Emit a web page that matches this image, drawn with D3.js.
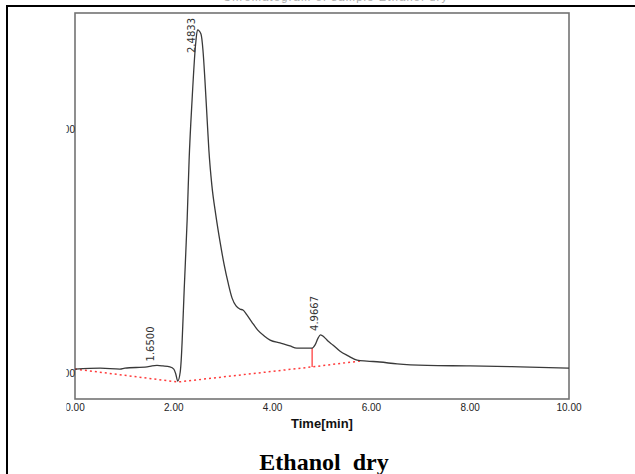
<!DOCTYPE html>
<html>
<head>
<meta charset="utf-8">
<script src="https://cdn.jsdelivr.net/npm/d3@7"></script>
<style>
  body { margin: 0; background: #fff; }
  svg { display: block; }
</style>
</head>
<body>
<div id="chart"></div>
<script>
// Trace: retention time (min) and detector signal
const times = [0.00, 0.51, 0.91, 1.01, 1.46, 1.56, 1.66, 1.78, 1.92, 2.00, 2.04, 2.08, 2.13, 2.15, 2.17,
  2.21, 2.27, 2.31, 2.37, 2.44, 2.48, 2.55, 2.59, 2.63, 2.67, 2.71, 2.77, 2.85, 2.94, 3.02, 3.10,
  3.18, 3.26, 3.34, 3.40, 3.48, 3.58, 3.70, 3.83, 3.95, 4.15, 4.35, 4.49, 4.80, 4.86, 4.92, 4.97,
  5.04, 5.12, 5.22, 5.36, 5.53, 5.71, 5.91, 6.17, 6.52, 7.13, 8.00, 9.01, 10.00];
const signal = [101.6, 102.0, 101.6, 102.0, 102.5, 102.9, 103.1, 102.9, 102.5, 101.6, 99.6, 96.7, 100.4, 105.3, 113.5,
  134.0, 162.7, 187.3, 211.9, 234.4, 240.6, 238.9, 232.4, 220.1, 205.7, 191.4, 177.0, 164.8, 153.3, 144.3, 136.9,
  130.7, 127.5, 126.2, 125.8, 123.8, 120.9, 117.6, 115.2, 113.5, 112.3, 111.1, 110.2, 110.2, 111.5, 114.3, 115.6,
  114.8, 113.1, 111.5, 109.0, 107.0, 105.3, 104.9, 104.5, 103.7, 103.1, 102.9, 102.5, 102.0];

// Integration baseline (red dotted)
const baseTimes = [0.00, 2.08, 4.80, 5.77];
const baseSignal = [101.6, 96.3, 102.5, 104.9];

// Peak start marker (red solid drop line)
const dropTime = 4.80;
const dropTop = 110.2;
const dropBottom = 102.5;

// Labelled peaks
const peakTimes = [1.65, 2.4833, 4.9667];
const peakSignal = [103.1, 240.6, 115.6];

// Axes
const xTickValues = [0, 2, 4, 6, 8, 10];
const yTickValues = [100, 200];
const xTitle = "Time[min]";
const caption = "Ethanol  dry";
const headerText = "Chromatogram of sample Ethanol dry";

const width = 635, height = 474;
const box = { left: 75, top: 13, right: 569, bottom: 399 };

const svg = d3.select("#chart").append("svg")
  .attr("width", width)
  .attr("height", height);

// Outer frame (table borders)
svg.append("line").attr("x1", 6).attr("x2", width).attr("y1", 6).attr("y2", 6)
  .attr("stroke", "#000").attr("stroke-width", 2.2);
svg.append("line").attr("x1", 7).attr("x2", 7).attr("y1", 5).attr("y2", height)
  .attr("stroke", "#000").attr("stroke-width", 2);

// Header text, only its lowest edge shows above the frame
svg.append("text")
  .attr("x", 335).attr("y", 1)
  .attr("text-anchor", "middle")
  .attr("font-family", "Arial, 'Liberation Sans', sans-serif")
  .attr("font-size", 11)
  .attr("fill", "#aaa")
  .attr("opacity", 0.99)
  .attr("textLength", 224)
  .text(headerText);

const x = d3.scaleLinear().domain([0, 10]).range([box.left, box.right]);
const y = d3.scaleLinear().domain([100, 200]).range([373, 129]);

const defs = svg.append("defs");
defs.append("clipPath").attr("id", "plot-clip")
  .append("rect")
  .attr("x", box.left).attr("y", box.top)
  .attr("width", box.right - box.left).attr("height", box.bottom - box.top);
defs.append("clipPath").attr("id", "label-clip")
  .append("rect")
  .attr("x", 66.5).attr("y", 0)
  .attr("width", width).attr("height", height);

const narrow = "'Liberation Sans Narrow', 'Arial Narrow', Arial, sans-serif";

// Plot box
svg.append("rect")
  .attr("x", box.left).attr("y", box.top)
  .attr("width", box.right - box.left).attr("height", box.bottom - box.top)
  .attr("fill", "none")
  .attr("stroke", "#737373")
  .attr("stroke-width", 1.6);

const plot = svg.append("g").attr("clip-path", "url(#plot-clip)");

// Baseline (dotted red)
const baseData = baseTimes.map((t, i) => [t, baseSignal[i]]);
plot.append("path")
  .datum(baseData)
  .attr("fill", "none")
  .attr("stroke", "#ff3b3b")
  .attr("stroke-width", 1.5)
  .attr("stroke-dasharray", "2,3")
  .attr("d", d3.line().x(d => x(d[0])).y(d => y(d[1])));

// Drop line
plot.append("line")
  .attr("x1", x(dropTime)).attr("x2", x(dropTime))
  .attr("y1", y(dropTop)).attr("y2", y(dropBottom))
  .attr("stroke", "#ff3030")
  .attr("stroke-width", 1.2);

// Chromatogram trace
const traceData = times.map((t, i) => [t, signal[i]]);
plot.append("path")
  .datum(traceData)
  .attr("fill", "none")
  .attr("stroke", "#3a3a3a")
  .attr("stroke-width", 1.3)
  .attr("stroke-linejoin", "round")
  .attr("d", d3.line().x(d => x(d[0])).y(d => y(d[1])).curve(d3.curveMonotoneX));

// Peak retention time labels, rotated
const labelGroup = svg.append("g");
peakTimes.forEach((t, i) => {
  const px = x(t) - 2.5;
  const txt = labelGroup.append("text")
    .attr("font-family", "'DejaVu Sans', sans-serif")
    .attr("font-size", 10)
    .attr("fill", "#333")
    .text(t.toFixed(4));
  const len = txt.node().getComputedTextLength();
  const py = Math.max(y(peakSignal[i]) - 4, box.top + 5 + len);
  txt.attr("transform", `translate(${px},${py}) rotate(-90)`);
});

// Axis labels (left side is clipped like the original)
const labels = svg.append("g").attr("clip-path", "url(#label-clip)").attr("opacity", 0.99);

labels.selectAll(".xtick")
  .data(xTickValues)
  .join("text")
  .attr("class", "xtick")
  .attr("x", d => x(d))
  .attr("y", 411)
  .attr("text-anchor", "middle")
  .attr("font-family", narrow)
  .attr("font-size", 10)
  .attr("fill", "#222")
  .text(d3.format(".2f"));

labels.selectAll(".ytick")
  .data(yTickValues)
  .join("text")
  .attr("class", "ytick")
  .attr("x", 75)
  .attr("y", d => y(d) + 3.5)
  .attr("text-anchor", "end")
  .attr("font-family", narrow)
  .attr("font-size", 10)
  .attr("fill", "#222")
  .text(d => d);

svg.append("text")
  .attr("x", (box.left + box.right) / 2)
  .attr("y", 428)
  .attr("text-anchor", "middle")
  .attr("font-family", narrow)
  .attr("font-weight", "bold")
  .attr("font-size", 13)
  .attr("fill", "#111")
  .text(xTitle);

svg.append("text")
  .attr("x", 324)
  .attr("y", 470)
  .attr("text-anchor", "middle")
  .attr("font-family", "'Liberation Serif', 'Times New Roman', serif")
  .attr("font-weight", "bold")
  .attr("font-size", 24)
  .attr("fill", "#000")
  .style("white-space", "pre")
  .text(caption);
</script>
</body>
</html>
